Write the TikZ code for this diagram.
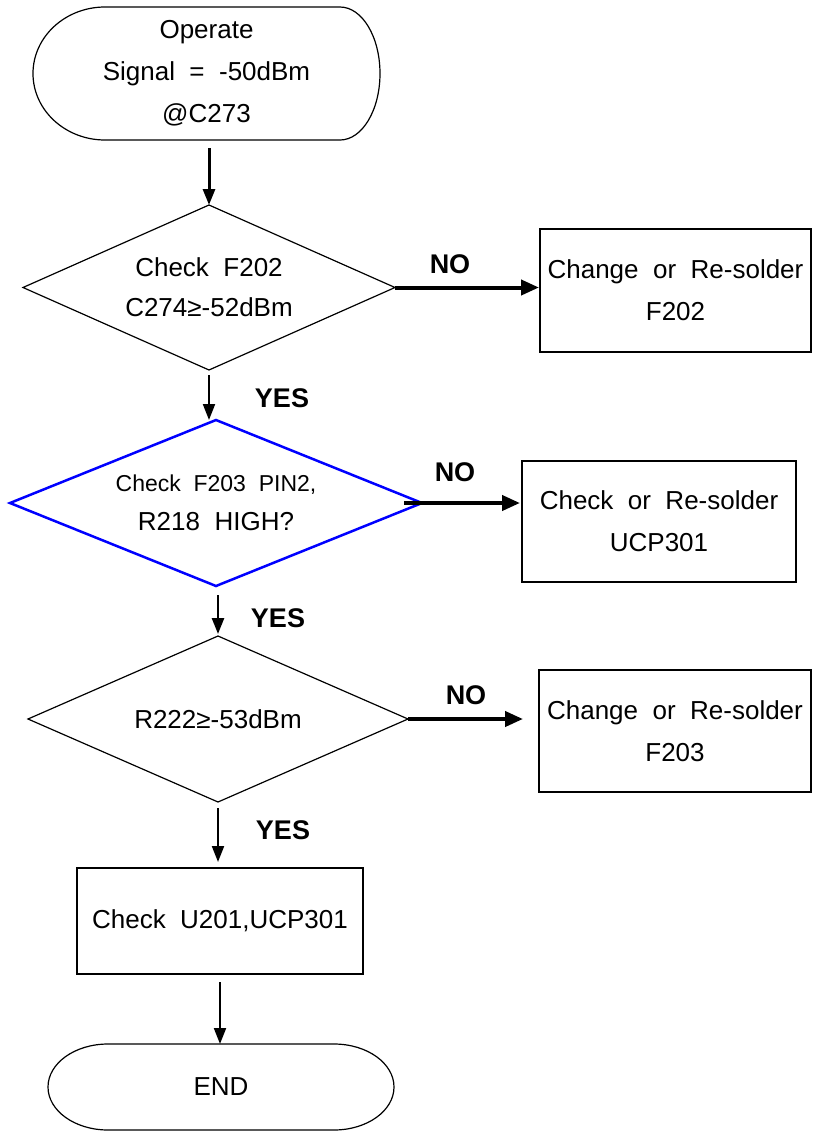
\documentclass[tikz,border=0pt]{standalone}
\usepackage{fontspec}
\setmainfont{Liberation Sans}[WordSpace=2]
\usetikzlibrary{shapes.geometric,arrows.meta}
\definecolor{dblue}{RGB}{0,0,255}
\tikzset{
  base/.style={font=\fontsize{26}{42}\selectfont, align=center, inner sep=0pt, outer sep=0pt},
  dec/.style={base, diamond, draw, line width=1.2pt, aspect=2.5},
  proc/.style={base, rectangle, draw, line width=1.8pt},
  lbl/.style={font=\fontsize{27}{30}\selectfont\bfseries, inner sep=0pt},
  arr/.style={-{Triangle[length=16pt,width=12pt]}, line width=2pt},
  noarr/.style={-{Triangle[length=18pt,width=15pt]}, line width=4pt},
}
\begin{document}
\begin{tikzpicture}[x=1pt,y=-1pt]
\useasboundingbox (0,0) rectangle (812,1133);
\fill[white] (0,0) rectangle (812,1133);
% start terminator
\node[base, minimum width=347pt, minimum height=133pt] (start) at (206.5,73.5) {Operate\\Signal = -50dBm\\@C273};
\draw[line width=1.2pt] ([xshift=72pt]start.north west) -- ([xshift=-40pt]start.north east)
  arc[start angle=90,end angle=-90,x radius=40pt,y radius=66.5pt]
  -- ([xshift=72pt]start.south west)
  arc[start angle=270,end angle=90,x radius=72pt,y radius=66.5pt] -- cycle;
% decisions
\node[dec, minimum width=372pt, minimum height=165pt, font=\fontsize{26}{40}\selectfont] (d1) at (209,287.5) {Check F202\\C274≥-52dBm};
\node[dec, draw=dblue, line width=2.5pt, minimum width=412pt, minimum height=166pt, font=\fontsize{26}{39}\selectfont] (d2) at (216,503) {{\fontsize{23}{39}\selectfont Check F203 PIN2,}\\R218 HIGH?};
\node[dec, minimum width=380pt, minimum height=166pt] (d3) at (218,719) {R222≥-53dBm};
% process boxes
\node[proc, minimum width=271pt, minimum height=123pt] (b1) at (675.5,290.5) {Change or Re-solder\\F202};
\node[proc, minimum width=274pt, minimum height=121pt] (b2) at (659,521.5) {Check or Re-solder\\UCP301};
\node[proc, minimum width=272pt, minimum height=122pt] (b3) at (675,731) {Change or Re-solder\\F203};
\node[proc, line width=1.3pt, minimum width=286pt, minimum height=106pt] (b4) at (220,921) {Check U201,UCP301};
% end terminator
\node[base, minimum width=346pt, minimum height=86pt] (end) at (221,1087) {END};
\draw[line width=1.2pt] ([xshift=60pt]end.north west) -- ([xshift=-60pt]end.north east)
  arc[start angle=90,end angle=-90,x radius=60pt,y radius=43pt]
  -- ([xshift=60pt]end.south west)
  arc[start angle=270,end angle=90,x radius=60pt,y radius=43pt] -- cycle;
% connectors
\draw[arr, line width=3pt, shorten <=8pt] (start.south -| d1.north) -- (d1.north);
\draw[arr, shorten <=5pt] (d1.south) -- (d1.south |- d2.north);
\draw[arr, line width=2.5pt, shorten <=9pt, shorten >=2pt] (d3.north |- d2.south) -- (d3.north);
\draw[arr, shorten <=6pt, shorten >=6pt] (d3.south) -- (d3.south |- b4.north);
\draw[arr, shorten <=8pt] (b4.south) -- (b4.south |- end.north);
\draw[noarr, shorten >=1pt] (d1.east) -- (d1.east -| b1.west);
\draw[noarr, shorten <=-18pt, shorten >=2pt] (d2.east) -- (d2.east -| b2.west);
\draw[noarr, shorten >=16pt] (d3.east) -- (d3.east -| b3.west);
% labels
\node[lbl] (no1) at (450,264) {NO};
\node[lbl] (yes1) at (282,398) {YES};
\node[lbl] (no2) at (455,472) {NO};
\node[lbl] (yes2) at (278,618) {YES};
\node[lbl] (no3) at (466,695) {NO};
\node[lbl] (yes3) at (283,830) {YES};
\end{tikzpicture}
\end{document}
